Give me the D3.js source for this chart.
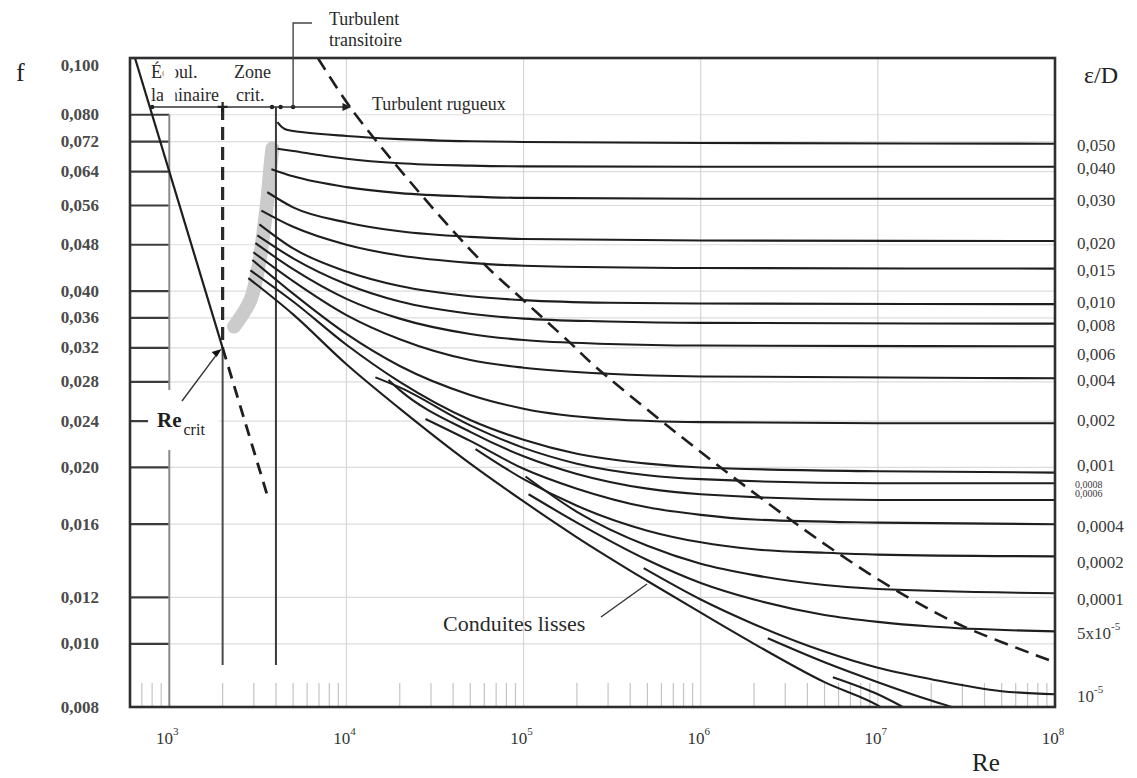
<!DOCTYPE html>
<html>
<head>
<meta charset="utf-8">
<script src="https://cdn.jsdelivr.net/npm/d3@7"></script>
<style>
  body { margin: 0; background: #fff; }
  text { font-family: "Liberation Serif", "Times New Roman", serif; }
</style>
</head>
<body>
<svg id="chart" width="1137" height="778"></svg>
<script>
// ---------- axis definitions ----------
const fTicks = [0.100, 0.080, 0.072, 0.064, 0.056, 0.048, 0.040, 0.036, 0.032, 0.028, 0.024, 0.020, 0.016, 0.012, 0.010, 0.008];
const fTickLabels = ["0,100", "0,080", "0,072", "0,064", "0,056", "0,048", "0,040", "0,036", "0,032", "0,028", "0,024", "0,020", "0,016", "0,012", "0,010", "0,008"];
const reDecades = [1e3, 1e4, 1e5, 1e6, 1e7, 1e8];
const reDecadeExponents = ["3", "4", "5", "6", "7", "8"];

// ---------- friction factor curves, points [Re, f] ----------
const c050 = [[4074, 0.0777], [4300, 0.0763], [4600, 0.0754], [5700, 0.0747], [1e4, 0.0736], [2e4, 0.0727], [5e4, 0.0721], [1e5, 0.0719], [1e6, 0.0716], [1e8, 0.0714]];
const c040 = [[4074, 0.0700], [5000, 0.0694], [7000, 0.0683], [1e4, 0.0673], [2e4, 0.0661], [5e4, 0.0655], [1e5, 0.0653], [1e6, 0.0652], [1e8, 0.0652]];
const c030 = [[3770, 0.0646], [5000, 0.0628], [1e4, 0.0602], [2e4, 0.0588], [5e4, 0.0580], [1e5, 0.0577], [1e6, 0.0575], [1e8, 0.0575]];
const c020 = [[3578, 0.0590], [5000, 0.0556], [1e4, 0.0524], [2e4, 0.0506], [5e4, 0.0495], [1e5, 0.0491], [1e6, 0.0488], [1e8, 0.0487]];
const c015 = [[3310, 0.0549], [5000, 0.0515], [1e4, 0.0480], [2e4, 0.0460], [5e4, 0.0447], [1e5, 0.0442], [1e6, 0.0438], [1e8, 0.0437]];
const c010 = [[3225, 0.0520], [5000, 0.0473], [1e4, 0.0432], [2e4, 0.0408], [5e4, 0.0392], [1e5, 0.0386], [3e5, 0.0382], [1e6, 0.0381], [1e8, 0.0380]];
const c008 = [[3143, 0.0498], [5000, 0.0455], [1e4, 0.0411], [2e4, 0.0384], [5e4, 0.0366], [1e5, 0.0359], [3e5, 0.0355], [1e6, 0.0353], [1e8, 0.0352]];
const c006 = [[3061, 0.0483], [5000, 0.0436], [1e4, 0.0388], [2e4, 0.0359], [5e4, 0.0338], [1e5, 0.0330], [3e5, 0.0325], [1e6, 0.0323], [1e8, 0.0322]];
const c004 = [[2983, 0.0466], [5000, 0.0416], [1e4, 0.0364], [2e4, 0.0331], [5e4, 0.0305], [1e5, 0.0296], [3e5, 0.0289], [1e6, 0.0286], [1e8, 0.0284]];
const c002 = [[2944, 0.0452], [5000, 0.0396], [1e4, 0.0338], [2e4, 0.0298], [5e4, 0.0266], [1e5, 0.0252], [3e5, 0.0242], [1e6, 0.0239], [1e7, 0.0238], [1e8, 0.0238]];
const c001 = [[2868, 0.0434], [5000, 0.0384], [1e4, 0.0324], [2e4, 0.0280], [5e4, 0.0241], [1e5, 0.0223], [2e5, 0.0211], [5e5, 0.0203], [1e6, 0.0200], [1e7, 0.0197], [1e8, 0.0196]];
const c0008 = [[14580, 0.0285], [2e4, 0.0274], [5e4, 0.0236], [1e5, 0.0216], [2e5, 0.0203], [5e5, 0.0194], [1e6, 0.0191], [1e7, 0.0188], [1e8, 0.0188]];
const c0006 = [[17270, 0.0282], [2e4, 0.0271], [5e4, 0.0230], [1e5, 0.0209], [2e5, 0.0195], [5e5, 0.0184], [1e6, 0.0180], [1e7, 0.0176], [1e8, 0.0176]];
const c0004 = [[27940, 0.0242], [5e4, 0.0222], [1e5, 0.0199], [2e5, 0.0184], [5e5, 0.0171], [1e6, 0.0166], [2e6, 0.0163], [1e7, 0.0161], [1e8, 0.0160]];
const c0002 = [[53550, 0.0215], [1e5, 0.0191], [2e5, 0.0172], [5e5, 0.0156], [1e6, 0.0149], [2e6, 0.0145], [5e6, 0.0143], [1e7, 0.0142], [1e8, 0.0141]];
const c0001 = [[102600, 0.0193], [2e5, 0.0168], [5e5, 0.0147], [1e6, 0.0137], [2e6, 0.0131], [5e6, 0.0126], [1e7, 0.0124], [1e8, 0.0122]];
const c00005 = [[106700, 0.0180], [2e5, 0.0161], [5e5, 0.0139], [1e6, 0.0127], [2e6, 0.0119], [5e6, 0.0112], [1e7, 0.0109], [2e7, 0.0107], [1e8, 0.0105]];
const c00001 = [[476400, 0.01346], [1e6, 0.0119], [2e6, 0.0108], [5e6, 0.0097], [1e7, 0.0091], [2e7, 0.0087], [5e7, 0.0083], [1e8, 0.0082]];
const cFineA = [[2.39e6, 0.01022], [5e6, 0.0093], [1e7, 0.0086], [2e7, 0.0080], [3e7, 0.0077]];
const cFineB = [[5.57e6, 0.00877], [1e7, 0.0082], [1.5e7, 0.0077]];
const cSmooth = [[2794, 0.0421], [5000, 0.0365], [1e4, 0.0300], [2e4, 0.0252], [5e4, 0.0203], [1e5, 0.0175], [2e5, 0.0152], [5e5, 0.0128], [1e6, 0.0113], [2e6, 0.0100], [5e6, 0.0086], [1e7, 0.00785], [1.2e7, 0.0076]];

// relative roughness labels (right side), in the order of the curves above
const roughnessCurves = [c050, c040, c030, c020, c015, c010, c008, c006, c004, c002, c001, c0008, c0006, c0004, c0002, c0001, c00005, c00001];
const roughnessLabels = ["0,050", "0,040", "0,030", "0,020", "0,015", "0,010", "0,008", "0,006", "0,004", "0,002", "0,001", "0,0008", "0,0006", "0,0004", "0,0002", "0,0001", "5x10|-5", "10|-5"];

// laminar law f = 64/Re, solid up to the critical point then dashed
const laminarSolid = [[640, 0.100], [2000, 0.032]];
const laminarDashed = [[2000, 0.032], [3560, 0.018]];

// limit of the fully rough zone
const roughLimit = [[6900, 0.100], [10500, 0.0824], [25200, 0.0594], [59400, 0.0446], [96000, 0.0390], [184000, 0.0326], [255000, 0.0297], [1.14e6, 0.0206], [3.2e6, 0.0163], [6.8e6, 0.0139], [1.48e7, 0.0120], [3.06e7, 0.0107], [1e8, 0.0093]];

// critical-zone shading
const criticalBand = [[2320, 0.0348], [2868, 0.0386], [3183, 0.0439], [3396, 0.0502], [3578, 0.0572], [3721, 0.0651], [3819, 0.0701]];

// flow regime markers
const reCrit = 2000, reTurb = 4000, reLamStart = 800, reRoughArrow = 1e4, reTransition = 5000;
const fRegimeLine = 0.0825, fMarkersBottom = 0.0092;

// ---------- scales ----------
const svg = d3.select("#chart");
const x = d3.scaleLog().domain([600, 1e8]).range([130, 1055]);
const y = d3.scaleLog().domain([0.0078, 0.1]).range([707, 58]);
const [x0, x1] = x.range();
const [yb, yt] = y.range();

const line = d3.line().x(d => x(d[0])).y(d => y(d[1])).curve(d3.curveMonotoneX);
const lineCR = d3.line().x(d => x(d[0])).y(d => y(d[1])).curve(d3.curveCatmullRom.alpha(0.5));

svg.append("defs").append("clipPath").attr("id", "plot")
  .append("rect").attr("x", x0).attr("y", yt).attr("width", x1 - x0).attr("height", yb - yt);

// ---------- grid ----------
const grid = svg.append("g");
fTicks.slice(1, -1).forEach(t => {
  grid.append("line").attr("x1", x(1000)).attr("x2", x1).attr("y1", y(t)).attr("y2", y(t))
    .attr("stroke", "#dcdcdc").attr("stroke-width", 1.2);
});
reDecades.slice(1, -1).forEach(r => {
  grid.append("line").attr("x1", x(r)).attr("x2", x(r)).attr("y1", yt).attr("y2", yb)
    .attr("stroke", "#d6d6d6").attr("stroke-width", 1.2);
});
// minor ticks along the bottom
const minor = [];
[100, 1e3, 1e4, 1e5, 1e6, 1e7].forEach(d => { for (let k = 2; k <= 9; k++) minor.push(d * k); });
minor.filter(r => x(r) > x0 + 2 && x(r) < x1 - 1).forEach(r => {
  grid.append("line").attr("x1", x(r)).attr("x2", x(r)).attr("y1", yb - 24).attr("y2", yb)
    .attr("stroke", "#c4c4c4").attr("stroke-width", 1.2);
});

// ---------- left ladder (f scale) ----------
const ladder = svg.append("g");
fTicks.slice(1, -1).forEach(t => {
  ladder.append("line").attr("x1", x0).attr("x2", x(1000)).attr("y1", y(t)).attr("y2", y(t))
    .attr("stroke", "#3c3c3c").attr("stroke-width", 2.2);
});
ladder.append("line").attr("x1", x(1000)).attr("x2", x(1000)).attr("y1", y(0.080)).attr("y2", yb)
  .attr("stroke", "#8a8a8a").attr("stroke-width", 2);

// ---------- critical band ----------
svg.append("path").datum(criticalBand).attr("d", lineCR)
  .attr("fill", "none").attr("stroke", "#cbcbcb").attr("stroke-width", 14)
  .attr("stroke-linecap", "round");

// ---------- regime verticals ----------
svg.append("line").attr("x1", x(reCrit)).attr("x2", x(reCrit)).attr("y1", y(fRegimeLine)).attr("y2", y(0.032))
  .attr("stroke", "#2a2a2a").attr("stroke-width", 3.2).attr("stroke-dasharray", "13,7");
svg.append("line").attr("x1", x(reCrit)).attr("x2", x(reCrit)).attr("y1", y(0.032)).attr("y2", y(fMarkersBottom))
  .attr("stroke", "#4a4a4a").attr("stroke-width", 2);
svg.append("line").attr("x1", x(reTurb)).attr("x2", x(reTurb)).attr("y1", y(fRegimeLine)).attr("y2", y(fMarkersBottom))
  .attr("stroke", "#3a3a3a").attr("stroke-width", 2);

// ---------- curves ----------
const curves = svg.append("g").attr("clip-path", "url(#plot)");
[...roughnessCurves, cFineA, cFineB, cSmooth].forEach(c => {
  curves.append("path").datum(c).attr("d", line)
    .attr("fill", "none").attr("stroke", "#1e1e1e").attr("stroke-width", 2.1);
});
curves.append("path").datum(roughLimit).attr("d", lineCR)
  .attr("fill", "none").attr("stroke", "#1e1e1e").attr("stroke-width", 2.6).attr("stroke-dasharray", "14,8");
curves.append("path").datum(laminarSolid).attr("d", line)
  .attr("fill", "none").attr("stroke", "#1e1e1e").attr("stroke-width", 2.2);
curves.append("path").datum(laminarDashed).attr("d", line)
  .attr("fill", "none").attr("stroke", "#1e1e1e").attr("stroke-width", 2.8).attr("stroke-dasharray", "12,8");

// ---------- frame ----------
svg.append("rect").attr("x", x0).attr("y", yt).attr("width", x1 - x0).attr("height", yb - yt)
  .attr("fill", "none").attr("stroke", "#2e2e2e").attr("stroke-width", 2.6);

// ---------- regime arrow line ----------
const yr = y(fRegimeLine);
svg.append("line").attr("x1", x(reLamStart)).attr("x2", x(reRoughArrow) + 3).attr("y1", yr).attr("y2", yr)
  .attr("stroke", "#333").attr("stroke-width", 1.6);
svg.append("path")
  .attr("d", `M${x(reRoughArrow) + 5},${yr} l-9,-4 l0,8 z`).attr("fill", "#222");
[x(reLamStart), x(3800), x(4250), x(reTransition)].forEach(px => {
  svg.append("circle").attr("cx", px).attr("cy", yr).attr("r", 2.2).attr("fill", "#222");
});
svg.append("path").attr("d", `M${x(reCrit) - 5},${yr} h10 M${x(reCrit)},${yr - 5} v10`)
  .attr("stroke", "#222").attr("stroke-width", 2.2);
// bracket to "Turbulent transitoire"
svg.append("path").attr("d", `M${x(reTransition)},${yr} V23 H312`)
  .attr("fill", "none").attr("stroke", "#444").attr("stroke-width", 1.4);

// ---------- annotations ----------
const txt = (s, px, py, size, anchor = "start", fill = "#2a2a2a") =>
  svg.append("text").attr("x", px).attr("y", py).attr("font-size", size)
    .attr("text-anchor", anchor).attr("dominant-baseline", "central").attr("fill", fill).text(s);

txt("Turbulent", 329, 19, 18);
txt("transitoire", 329, 40, 18);
txt("Turbulent rugueux", 372, 104, 18);
txt("Écoul.", 151, 72, 18);
txt("laminaire", 151, 95, 18);
txt("Zone", 234, 72, 18);
txt("crit.", 236, 95, 18);
// white strip where the Re = 1000 line crosses the regime labels
svg.append("rect").attr("x", x(1000) - 6).attr("y", 62).attr("width", 12).attr("height", 42).attr("fill", "#fff");

txt("Conduites lisses", 443, 623, 22);
svg.append("line").attr("x1", 601).attr("y1", 617).attr("x2", 647).attr("y2", 584)
  .attr("stroke", "#333").attr("stroke-width", 1.4);

// Re_crit label with pointer to the critical point
svg.append("rect").attr("x", 148).attr("y", 390).attr("width", 71).attr("height", 60).attr("fill", "#fff");
const rc = svg.append("text").attr("x", 157).attr("y", 420).attr("dominant-baseline", "central").attr("fill", "#1e1e1e");
rc.append("tspan").attr("font-size", 21).attr("font-weight", "bold").text("Re");
rc.append("tspan").attr("font-size", 16).attr("dy", 9).attr("dx", 2).text("crit");
svg.append("line").attr("x1", 182).attr("y1", 401).attr("x2", x(reCrit) - 4).attr("y2", y(0.032) + 4)
  .attr("stroke", "#333").attr("stroke-width", 1.4);
svg.append("path").attr("d", `M${x(reCrit) - 1},${y(0.032) + 1} l-10,3 l5,5 z`).attr("fill", "#111");

// axis titles
txt("f", 16, 72, 26, "start", "#222");
txt("ε/D", 1084, 75, 24, "start", "#222");
txt("Re", 972, 762, 25, "start", "#222");

// left tick labels
fTicks.forEach((t, i) => {
  const edge = (i === 0 || i === fTicks.length - 1) ? 7 : 0;
  txt(fTickLabels[i], 99, y(t) + edge, 17, "end", "#4a4a4a").attr("font-weight", "bold");
});

// bottom decade labels
reDecades.forEach((r, i) => {
  const t = svg.append("text").attr("x", x(r) - 2).attr("y", 738).attr("text-anchor", "middle")
    .attr("dominant-baseline", "central").attr("fill", "#333").attr("font-size", 17);
  t.append("tspan").text("10");
  t.append("tspan").attr("font-size", 11).attr("dy", -7).text(reDecadeExponents[i]);
});

// roughness labels at the right end of each curve
const labelNudge = { "0,010": -4, "0,006": 6, "0,002": -5, "0,001": -9, "0,0008": -1, "0,0006": -8, "0,0002": 4, "0,0001": 4 };
const tiny = new Set(["0,0008", "0,0006"]);
roughnessCurves.forEach((c, i) => {
  const lab = roughnessLabels[i];
  const py = y(c[c.length - 1][1]) + 2 + (labelNudge[lab] || 0);
  const t = svg.append("text").attr("x", tiny.has(lab) ? 1075 : 1077).attr("y", py)
    .attr("dominant-baseline", "central").attr("fill", "#3a3a3a").attr("font-size", tiny.has(lab) ? 10 : 17);
  if (lab.includes("|")) {
    const [base, sup] = lab.split("|");
    t.append("tspan").text(base);
    t.append("tspan").attr("font-size", 11).attr("dy", -7).text(sup);
  } else {
    t.text(lab);
  }
});
</script>
</body>
</html>
